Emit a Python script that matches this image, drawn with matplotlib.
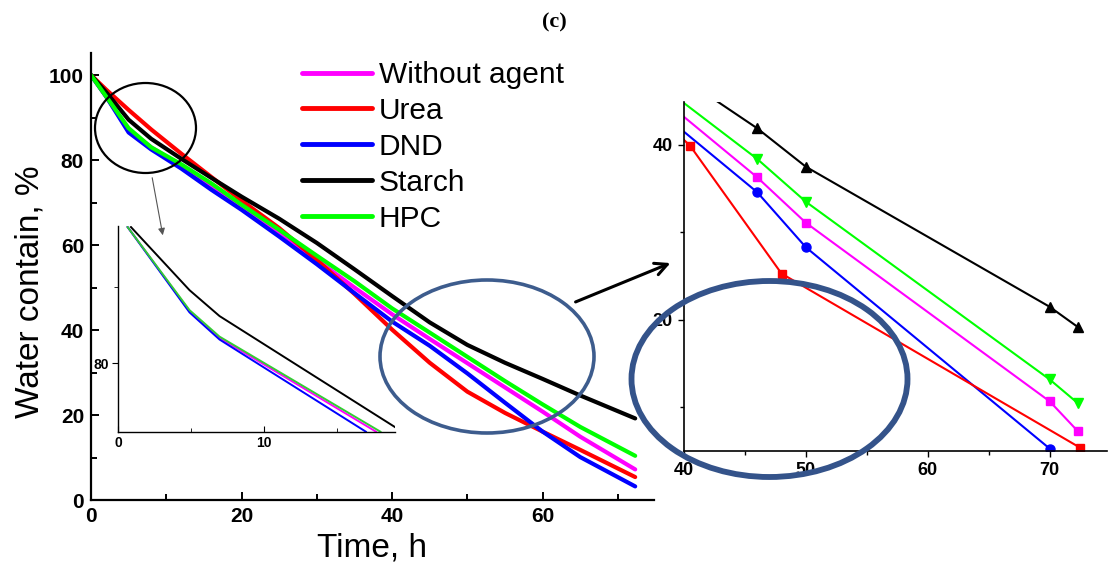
import matplotlib
matplotlib.use("Agg")
import matplotlib.pyplot as plt
from matplotlib.patches import Ellipse, FancyArrowPatch
from matplotlib.ticker import MultipleLocator

plt.rcParams['font.family'] = ['Liberation Sans', 'DejaVu Sans']

# ---------------- data: main curves ----------------
time_main = [0, 2, 5, 8, 12, 16, 20, 25, 30, 35, 40, 45, 50, 55, 60, 65, 72.3]
without_agent = [100, 95, 87, 83, 78.5, 73.5, 68.8, 62.8, 56.5, 50, 43.7, 37.9, 32.2, 26.5, 20.8, 14.9, 7.2]
urea = [100, 96.6, 91.8, 87.2, 81.5, 76, 70.5, 64, 56.5, 48.5, 40.1, 32.3, 25.5, 20.5, 16.1, 11.8, 5.4]
dnd = [100, 95, 86.5, 82.5, 78, 73, 68.3, 62, 55.5, 48.7, 42.0, 36.3, 29.8, 22.9, 16.1, 10.1, 3.2]
starch = [100, 96, 89.5, 85, 80.3, 75.8, 71.4, 66.2, 60.5, 54.3, 48.0, 41.8, 36.5, 32.3, 28.5, 24.6, 19.2]
hpc = [100, 95, 87.5, 83, 79, 74.5, 69.5, 63.6, 57.5, 51.5, 45.1, 39.4, 33.7, 28.0, 22.5, 17.2, 10.4]

series_names = ['Without agent', 'Urea', 'DND', 'Starch', 'HPC']
series_colors = ['#FF00FF', '#FF0000', '#0000FF', '#000000', '#00FF00']

# ---------------- data: left inset (early times) ----------------
inset1_starch_t = [0.87, 4.89, 6.95, 19.5]
inset1_starch_v = [88.93, 84.79, 83.09, 75.5]
inset1_hpc_t = [0.64, 4.89, 6.95, 18.0]
inset1_hpc_v = [88.93, 83.48, 81.74, 75.5]
inset1_wa_t = [0.64, 4.89, 6.95, 17.7]
inset1_wa_v = [88.93, 83.42, 81.66, 75.5]
inset1_dnd_t = [0.64, 4.89, 6.95, 17.0]
inset1_dnd_v = [88.93, 83.33, 81.55, 75.5]

# ---------------- data: right inset (late times) ----------------
inset2_starch_t = [38, 46, 50, 70, 72.3]
inset2_starch_v = [49.4, 41.9, 37.5, 21.5, 19.2]
inset2_hpc_t = [38, 46, 50, 70, 72.3]
inset2_hpc_v = [46.9, 38.4, 33.5, 13.2, 10.5]
inset2_wa_t = [38, 46, 50, 70, 72.3]
inset2_wa_v = [45.5, 36.3, 31.1, 10.7, 7.3]
inset2_dnd_t = [38, 46, 50, 70]
inset2_dnd_v = [43.8, 34.6, 28.3, 5.3]
inset2_urea_t = [38, 40.5, 48, 72.5]
inset2_urea_v = [43.2, 39.9, 25.3, 5.4]

W, H = 1108, 570
fig = plt.figure(figsize=(W / 100, H / 100), dpi=100)

def fx(px):
    return px / W

def fy(py):
    return 1 - py / H

# ---------------- main axes ----------------
ax = fig.add_axes([fx(91), fy(500), fx(654) - fx(91), fy(53) - fy(500)])
main_vals = [without_agent, urea, dnd, starch, hpc]
handles = []
for name, col, vals in zip(series_names, series_colors, main_vals):
    h, = ax.plot(time_main, vals, color=col, lw=3.0, label=name,
                 solid_capstyle='round', solid_joinstyle='round')
    handles.append(h)
ax.set_xlim(0, 74.8)
ax.set_ylim(0, 105.2)
ax.xaxis.set_major_locator(MultipleLocator(20))
ax.xaxis.set_minor_locator(MultipleLocator(10))
ax.yaxis.set_major_locator(MultipleLocator(20))
ax.yaxis.set_minor_locator(MultipleLocator(10))
for s in ['top', 'right']:
    ax.spines[s].set_visible(False)
for s in ['left', 'bottom']:
    ax.spines[s].set_linewidth(1.6)
ax.tick_params(which='both', direction='in', width=1.4)
ax.tick_params(which='major', length=6, labelsize=15, pad=5)
ax.tick_params(which='minor', length=4)
for lab in ax.get_xticklabels() + ax.get_yticklabels():
    lab.set_fontweight('bold')
ax.patch.set_alpha(0)

leg = ax.legend(handles=handles, loc='upper left',
                bbox_to_anchor=(fx(302), fy(61)), bbox_transform=fig.transFigure,
                frameon=False, fontsize=21.5, handlelength=2.34, handletextpad=0.23,
                labelspacing=0.265, borderpad=0, borderaxespad=0)
for line in leg.get_lines():
    line.set_linewidth(3.5)

fig.text(fx(30), fy(292), 'Water contain, %', rotation=90, fontsize=24,
         ha='center', va='center')
fig.text(fx(372), fy(548), 'Time, h', fontsize=24, ha='center', va='center')
fig.text(fx(554), fy(22), '(c)', fontsize=16, fontweight='bold',
         family=['Liberation Serif', 'DejaVu Serif'], ha='center', va='center')

# ---------------- left inset ----------------
ax1 = fig.add_axes([fx(118.3), fy(431.7), fx(395) - fx(118.3), fy(226) - fy(431.7)])
ax1.patch.set_alpha(0)
ax1.plot(inset1_starch_t, inset1_starch_v, color='#000000', lw=1.4)
ax1.plot(inset1_wa_t, inset1_wa_v, color='#FF00FF', lw=1.4)
ax1.plot(inset1_dnd_t, inset1_dnd_v, color='#0000FF', lw=1.4)
ax1.plot(inset1_hpc_t, inset1_hpc_v, color='#33CC33', lw=1.4)
ax1.set_xlim(0, 19)
ax1.set_ylim(75.5, 89.0)
ax1.set_xticks([0, 10])
ax1.set_xticks([5, 15], minor=True)
ax1.set_yticks([80])
ax1.set_yticks([85], minor=True)
for s in ['top', 'right']:
    ax1.spines[s].set_visible(False)
for s in ['left', 'bottom']:
    ax1.spines[s].set_linewidth(1.0)
ax1.tick_params(axis='x', which='both', direction='in')
ax1.tick_params(axis='y', which='both', direction='out')
ax1.tick_params(which='major', length=4, labelsize=10, pad=3)
ax1.tick_params(which='minor', length=3)
for lab in ax1.get_xticklabels() + ax1.get_yticklabels():
    lab.set_fontweight('bold')

# ---------------- right inset ----------------
ax2 = fig.add_axes([fx(684), fy(451), fx(1107) - fx(684), fy(102) - fy(451)])
ax2.patch.set_alpha(0)
ax2.plot(inset2_starch_t, inset2_starch_v, color='#000000', lw=1.5, marker='^', ms=7)
ax2.plot(inset2_hpc_t, inset2_hpc_v, color='#00FF00', lw=1.5, marker='v', ms=7)
ax2.plot(inset2_wa_t, inset2_wa_v, color='#FF00FF', lw=1.5, marker='s', ms=6)
ax2.plot(inset2_dnd_t, inset2_dnd_v, color='#0000FF', lw=1.5, marker='o', ms=6.5)
ax2.plot(inset2_urea_t, inset2_urea_v, color='#FF0000', lw=1.5, marker='s', ms=6)
ax2.set_xlim(40, 74.7)
ax2.set_ylim(5.03, 44.9)
ax2.xaxis.set_major_locator(MultipleLocator(10))
ax2.xaxis.set_minor_locator(MultipleLocator(5))
ax2.set_yticks([20, 40])
ax2.set_yticks([10, 30], minor=True)
for s in ['top', 'right']:
    ax2.spines[s].set_visible(False)
for s in ['left', 'bottom']:
    ax2.spines[s].set_linewidth(1.2)
ax2.tick_params(which='both', direction='out', width=1.0)
ax2.tick_params(which='major', length=4, labelsize=13, pad=4)
ax2.tick_params(which='minor', length=3)
for lab in ax2.get_xticklabels() + ax2.get_yticklabels():
    lab.set_fontweight('bold')

# ---------------- overlay annotations ----------------
ov = fig.add_axes([0, 0, 1, 1], zorder=10)
ov.set_xlim(0, W)
ov.set_ylim(H, 0)
ov.axis('off')
ov.patch.set_alpha(0)

ov.add_patch(Ellipse((145.5, 128), 101, 90, fill=False, ec='black', lw=1.6))
ov.add_patch(FancyArrowPatch((151.7, 175), (163.3, 238), arrowstyle='-|>',
                             mutation_scale=10, color='#555555', lw=0.8))
ov.add_patch(Ellipse((487, 356.5), 214, 153, fill=False, ec='#3D5C8D', lw=2.6))
ov.add_patch(Ellipse((769.5, 379), 276, 196, fill=False, ec='#34538A', lw=4.2))
ov.add_patch(FancyArrowPatch((573, 303), (673, 262), arrowstyle='->',
                             mutation_scale=22, color='black', lw=2.2))

fig.savefig('out.png', dpi=100)
